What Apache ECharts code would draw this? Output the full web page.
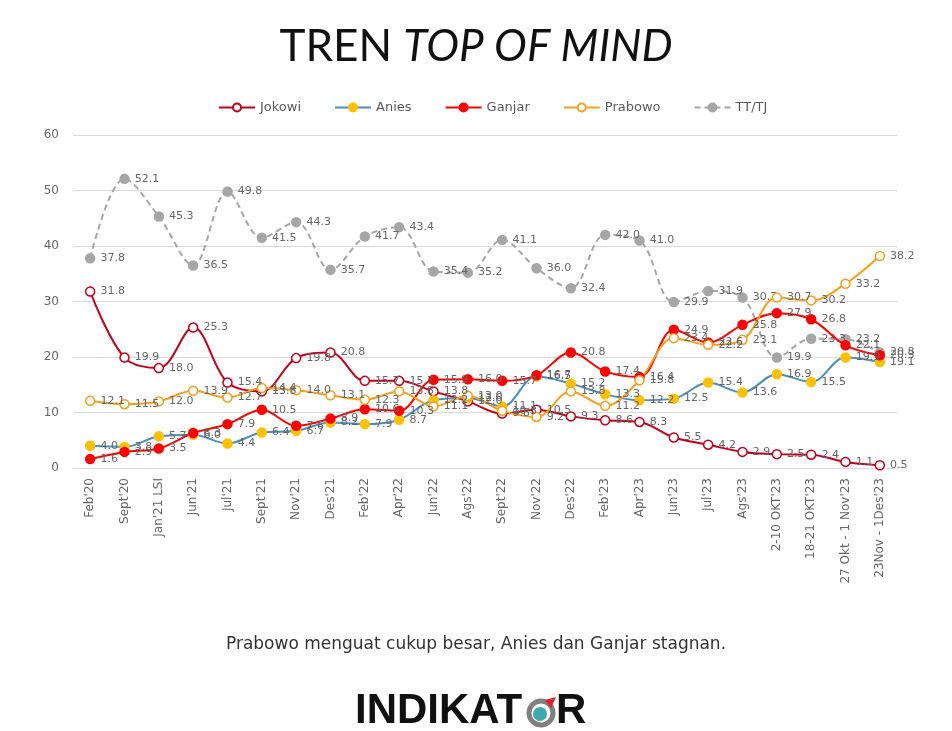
<!DOCTYPE html>
<html><head><meta charset="utf-8">
<script src="https://cdn.jsdelivr.net/npm/echarts@6/dist/echarts.min.js"></script>
<style>html,body{margin:0;padding:0;background:#fff}#c{width:952px;height:731px}</style>
</head><body><div id="c"></div>
<script>
const categories = ["Feb'20","Sept'20","Jan'21 LSI","Jun'21","Jul'21","Sept'21","Nov'21","Des'21","Feb'22","Apr'22","Jun'22","Ags'22","Sept'22","Nov'22","Des'22","Feb'23","Apr'23","Jun'23","Jul'23","Ags'23","2-10 OKT'23","18-21 OKT'23","27 Okt - 1 Nov'23","23Nov - 1Des'23"];
const jokowi  = [31.8,19.9,18.0,25.3,15.4,13.8,19.8,20.8,15.7,15.7,13.8,12.0,9.8,10.5,9.3,8.6,8.3,5.5,4.2,2.9,2.5,2.4,1.1,0.5];
const anies   = [4.0,3.8,5.7,6.0,4.4,6.4,6.7,8.2,7.9,8.7,12.2,12.6,11.1,16.5,15.2,13.3,12.2,12.5,15.4,13.6,16.9,15.5,19.9,19.1];
const ganjar  = [1.6,2.9,3.5,6.3,7.9,10.5,7.6,8.9,10.6,10.3,15.9,16.0,15.7,16.7,20.8,17.4,16.4,24.9,22.6,25.8,27.9,26.8,22.1,20.3];
const prabowo = [12.1,11.5,12.0,13.9,12.7,14.4,14.0,13.1,12.3,13.8,11.1,13.0,10.3,9.2,13.8,11.2,15.8,23.4,22.2,23.1,30.7,30.2,33.2,38.2];
const tttj    = [37.8,52.1,45.3,36.5,49.8,41.5,44.3,35.7,41.7,43.4,35.4,35.2,41.1,36.0,32.4,42.0,41.0,29.9,31.9,30.7,19.9,23.3,23.2,20.8];
const yTicks = {min:0, max:60, interval:10};

const FONT = '"DejaVu Sans", "Noto Sans", sans-serif';
const TFONT = 'Lato, "Noto Sans", sans-serif';
const LOGO = '"Liberation Sans", Arial, sans-serif';
const lbl = {show:true, position:'right', distance:5, fontSize:11, color:'#666', fontFamily:FONT, formatter:p=>Number(p.value).toFixed(1)};
function mk(name, data, lineColor, symColor, fill, dashed){
  return {name, type:'line', data, smooth:0.35, symbol:'circle', symbolSize:9,
    lineStyle:{color:lineColor, width:2, type: dashed?[6,4]:'solid'},
    itemStyle:{color:fill, borderColor:symColor, borderWidth:1.5},
    label:lbl, z: dashed?1:3};
}
const chart = echarts.init(document.getElementById('c'));
chart.setOption({
  backgroundColor:'#fff',
  animation:false,
  title:{text:'{a|TREN }{b|TOP OF MIND}', left:'center', top:20,
    textStyle:{rich:{a:{fontSize:44,color:'#111',fontFamily:TFONT,fontWeight:'normal'},b:{fontSize:44,color:'#111',fontFamily:TFONT,fontStyle:'italic',fontWeight:'normal'}}}},
  legend:{top:96, left:213, itemWidth:36, itemHeight:10, itemGap:33,
    textStyle:{fontSize:13, color:'#595959', fontFamily:FONT},
    data:['Jokowi','Anies','Ganjar','Prabowo','TT/TJ']},
  grid:{left:73, right:55, top:135, bottom:263},
  xAxis:{type:'category', data:categories, boundaryGap:true,
    axisLine:{lineStyle:{color:'#d9d9d9'}}, axisTick:{show:false},
    axisLabel:{rotate:90, interval:0, fontSize:12, color:'#666', fontFamily:FONT, margin:10}},
  yAxis:{type:'value', min:yTicks.min, max:yTicks.max, interval:yTicks.interval,
    axisLine:{show:false}, axisTick:{show:false},
    axisLabel:{fontSize:12, color:'#666', fontFamily:FONT, margin:14},
    splitLine:{lineStyle:{color:'#d9d9d9'}}},
  series:[
    mk('TT/TJ', tttj, '#a6a6a6', '#a6a6a6', '#a6a6a6', true),
    mk('Jokowi', jokowi, '#c0001a', '#c0001a', '#fff', false),
    mk('Anies', anies, '#4a8fbf', '#ffc000', '#ffc000', false),
    mk('Ganjar', ganjar, '#ff0000', '#ff0000', '#ff0000', false),
    mk('Prabowo', prabowo, '#f0a020', '#f0a020', '#fff', false)
  ],
  graphic:[
    {type:'text', left:'center', top:636, style:{text:'Prabowo menguat cukup besar, Anies dan Ganjar stagnan.', fontSize:17, fill:'#333', fontFamily:FONT}},
    {type:'text', left:355, top:690, style:{text:'INDIKAT', fontSize:42, fontWeight:'bold', fill:'#111', fontFamily:LOGO}},
    {type:'circle', shape:{cx:541, cy:713, r:12}, style:{fill:'none', stroke:'#808080', lineWidth:5}},
    {type:'circle', shape:{cx:540, cy:714, r:7}, style:{fill:'#3fa7b0'}},
    {type:'polygon', shape:{points:[[545,700],[556,697],[551,708]]}, style:{fill:'#e0202a'}},
    {type:'text', left:556, top:690, style:{text:'R', fontSize:42, fontWeight:'bold', fill:'#111', fontFamily:LOGO}}
  ]
});
</script></body></html>
